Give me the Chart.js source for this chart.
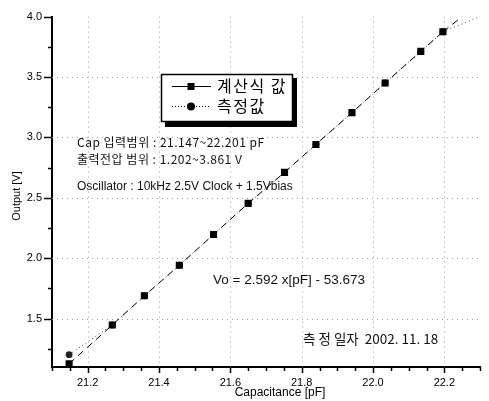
<!DOCTYPE html>
<html><head><meta charset="utf-8">
<script src="https://cdn.jsdelivr.net/npm/chart.js@4"></script>
<style>html,body{margin:0;padding:0;background:#fff}#wrap{width:489px;height:401px;position:relative}</style>
</head><body><div id="wrap"><canvas id="c" width="489" height="401"></canvas></div>
<script>
// ---- data ----
const capacitance = [21.148, 21.269, 21.359, 21.457, 21.553, 21.650, 21.752, 21.840, 21.941, 22.034, 22.134, 22.196];
const calculatedV = [1.127, 1.448, 1.689, 1.942, 2.197, 2.454, 2.711, 2.942, 3.205, 3.451, 3.712, 3.874];
const measuredV   = [1.202, 1.448, 1.689, 1.942, 2.197, 2.454, 2.711, 2.942, 3.205, 3.451, 3.712, 3.874];
const calcExtendX = [22.196, 22.250];
const calcExtendV = [3.874, 4.000];
const measExtendX = [22.196, 22.300];
const measExtendV = [3.874, 4.000];
const xTickLabels = ['21.2', '21.4', '21.6', '21.8', '22.0', '22.2'];
const yTickLabels = ['1.5', '2.0', '2.5', '3.0', '3.5', '4.0'];
const seriesNames = ['계산식 값', '측정값'];
const xTitle = 'Capacitance [pF]';
const yTitle = 'Output [V]';
const noteLines = ['Cap 입력범위 : 21.147~22.201 pF', '출력전압 범위 : 1.202~3.861 V', 'Oscillator : 10kHz 2.5V Clock + 1.5Vbias'];
const equationText = 'Vo = 2.592 x[pF] - 53.673';
const dateText = '측 정 일자  2002. 11. 18';

const LATIN = '"Liberation Sans", Arial, sans-serif';
const KR = '"Noto Sans CJK KR", "Liberation Sans", sans-serif';

const pts = (xs, ys) => xs.map((x, i) => ({x: x, y: ys[i]}));

function setSpacing(ctx, v) { try { ctx.letterSpacing = v; } catch (e) {} }

const decorPlugin = {
  id: 'decor',
  beforeDatasetsDraw(chart) {
    const {ctx, chartArea: a, scales: {x, y}} = chart;
    ctx.save();
    ctx.strokeStyle = '#a0a0a0';
    ctx.lineWidth = 1;
    ctx.setLineDash([1, 4]);
    xTickLabels.forEach(l => {
      const px = Math.round(x.getPixelForValue(parseFloat(l))) + 0.5;
      ctx.beginPath(); ctx.moveTo(px, a.top); ctx.lineTo(px, a.bottom); ctx.stroke();
    });
    yTickLabels.forEach(l => {
      const py = Math.round(y.getPixelForValue(parseFloat(l))) + 0.5;
      if (py < a.top + 2) return;
      ctx.beginPath(); ctx.moveTo(a.left, py); ctx.lineTo(a.right, py); ctx.stroke();
    });
    ctx.restore();
  },
  afterDraw(chart) {
    const {ctx, chartArea: a, scales: {x, y}} = chart;
    ctx.save();
    // tick marks
    ctx.strokeStyle = '#000';
    ctx.lineWidth = 1.5;
    x.ticks.forEach(t => {
      const major = xTickLabels.some(l => Math.abs(parseFloat(l) - t.value) < 1e-6);
      const px = Math.round(x.getPixelForValue(t.value)) + 0.5;
      ctx.beginPath(); ctx.moveTo(px, a.bottom); ctx.lineTo(px, a.bottom + (major ? 6 : 4)); ctx.stroke();
    });
    y.ticks.forEach(t => {
      const major = yTickLabels.some(l => Math.abs(parseFloat(l) - t.value) < 1e-6);
      const minor = Math.abs(t.value * 4 - Math.round(t.value * 4)) < 1e-6;
      if (!major && !minor) return;
      const py = Math.round(y.getPixelForValue(t.value)) + 0.5;
      ctx.beginPath(); ctx.moveTo(a.left, py); ctx.lineTo(a.left - (major ? 8 : 4), py); ctx.stroke();
    });

    // axis titles
    ctx.fillStyle = '#000';
    ctx.textBaseline = 'middle';
    ctx.textAlign = 'center';
    ctx.font = '12px ' + LATIN;
    ctx.fillText(xTitle, 280, 393);
    ctx.save();
    ctx.translate(17, 196);
    ctx.rotate(-Math.PI / 2);
    ctx.font = '11px ' + LATIN;
    ctx.fillText(yTitle, 0, 0);
    ctx.restore();

    // notes
    ctx.fillStyle = '#111';
    ctx.textAlign = 'left';
    ctx.font = '12px ' + KR;
    setSpacing(ctx, '0.5px');
    ctx.fillText(noteLines[0], 77, 142);
    ctx.fillText(noteLines[1], 77, 159);
    setSpacing(ctx, '0px');
    ctx.font = '12px ' + LATIN;
    ctx.fillText(noteLines[2], 77, 187);
    ctx.font = '13.5px ' + LATIN;
    ctx.fillText(equationText, 213, 280);
    ctx.font = '13.5px ' + KR;
    ctx.fillText(dateText, 303, 339);

    // legend box with shadow
    const bx = 161, by = 74, bw = 131, bh = 47;
    ctx.fillStyle = '#000';
    ctx.fillRect(bx + 4, by + 4, bw + 1, bh + 2);
    ctx.fillStyle = '#fff';
    ctx.fillRect(bx, by, bw, bh);
    ctx.strokeStyle = '#000';
    ctx.lineWidth = 1.5;
    ctx.strokeRect(bx + 0.5, by + 0.5, bw, bh);
    // entry 1
    ctx.lineWidth = 1;
    ctx.beginPath(); ctx.moveTo(172, 86.5); ctx.lineTo(211, 86.5); ctx.stroke();
    ctx.fillStyle = '#000';
    ctx.fillRect(187.5, 83, 7, 7);
    // entry 2
    ctx.setLineDash([1, 2]);
    ctx.beginPath(); ctx.moveTo(172, 106.5); ctx.lineTo(211, 106.5); ctx.stroke();
    ctx.setLineDash([]);
    ctx.beginPath(); ctx.arc(191, 106.5, 4, 0, Math.PI * 2); ctx.fill();
    ctx.save();
    ctx.beginPath(); ctx.rect(bx, by, bw, bh); ctx.clip();
    ctx.font = '16px ' + KR;
    setSpacing(ctx, '1.5px');
    ctx.fillText(seriesNames[0], 217, 86);
    ctx.fillText(seriesNames[1], 217, 106);
    ctx.restore();
    ctx.restore();
  }
};

new Chart(document.getElementById('c'), {
  type: 'scatter',
  data: {
    datasets: [
      {
        label: seriesNames[0],
        order: 0,
        data: pts(capacitance, calculatedV),
        showLine: true,
        borderColor: '#000',
        borderWidth: 1,
        borderDash: [7, 5],
        backgroundColor: '#000',
        pointStyle: 'rect',
        pointRadius: 5,
        pointBorderWidth: 0
      },
      {
        label: seriesNames[1],
        order: 1,
        data: pts(capacitance, measuredV),
        showLine: true,
        borderColor: '#444',
        borderWidth: 1,
        borderDash: [1, 3],
        backgroundColor: '#222',
        pointStyle: 'circle',
        pointRadius: 3.4,
        pointBorderWidth: 0
      },
      {
        label: 'calc-ext',
        order: 2,
        data: pts(calcExtendX, calcExtendV),
        showLine: true,
        borderColor: '#000',
        borderWidth: 1,
        borderDash: [7, 5],
        pointRadius: 0
      },
      {
        label: 'meas-ext',
        order: 3,
        data: pts(measExtendX, measExtendV),
        showLine: true,
        borderColor: '#555',
        borderWidth: 1,
        borderDash: [1, 3],
        pointRadius: 0
      }
    ]
  },
  options: {
    responsive: false,
    animation: false,
    events: [],
    layout: {padding: {top: 14, right: 0, left: 0, bottom: 0}},
    plugins: {legend: {display: false}, tooltip: {enabled: false}},
    scales: {
      x: {
        type: 'linear',
        min: 21.1, max: 22.3,
        afterFit(s) { s.height = 34; },
        grid: {display: false, drawTicks: false},
        border: {display: true, color: '#000', width: 2},
        ticks: {
          stepSize: 0.05, autoSkip: false, maxRotation: 0, padding: 9,
          color: '#000', font: {family: LATIN, size: 11},
          callback(v) {
            const m = xTickLabels.find(l => Math.abs(parseFloat(l) - v) < 1e-6);
            return m || '';
          }
        },
        title: {display: false}
      },
      y: {
        type: 'linear',
        min: 1.1, max: 4.0,
        afterFit(s) { s.width = 52; },
        grid: {display: false, drawTicks: false},
        border: {display: true, color: '#000', width: 2},
        ticks: {
          stepSize: 0.25, autoSkip: false, padding: 10,
          color: '#000', font: {family: LATIN, size: 11},
          callback(v) {
            const m = yTickLabels.find(l => Math.abs(parseFloat(l) - v) < 1e-6);
            return m || '';
          }
        },
        title: {display: false}
      }
    }
  },
  plugins: [decorPlugin]
});
</script>
</body></html>
